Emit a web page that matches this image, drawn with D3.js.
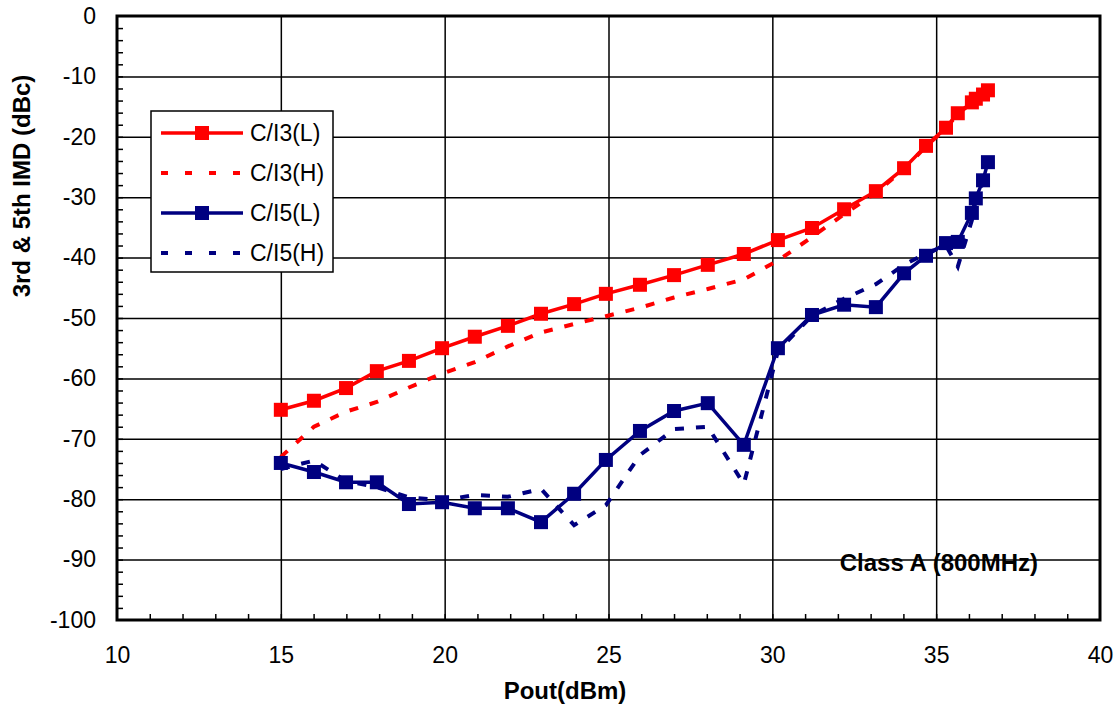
<!DOCTYPE html>
<html>
<head>
<meta charset="utf-8">
<script src="https://cdn.jsdelivr.net/npm/d3@7"></script>
<style>
  body { margin: 0; background: #fff; }
  text { font-family: 'Liberation Sans', Arial, sans-serif; fill: #000; }
  .grid line { stroke: #000; stroke-width: 1.5; }
  .grid .domain { display: none; }
</style>
</head>
<body>
<div id="box-div"></div>
<script>
// Pout (dBm) of each measured point
const pout = [15.0, 16.01, 16.99, 17.93, 18.91, 19.92, 20.92, 21.93, 22.94, 23.95,
  24.92, 25.96, 27.0, 28.03, 29.13, 30.17, 31.21, 32.19, 33.16, 34.02,
  34.69, 35.30, 35.66, 36.09, 36.21, 36.43, 36.58]

const ci3L = [-65.2, -63.7, -61.6, -58.8, -57.1, -55.0, -53.1, -51.3, -49.3, -47.7,
  -46.0, -44.5, -42.9, -41.2, -39.4, -37.1, -35.1, -32.0, -29.0, -25.2,
  -21.5, -18.5, -16.1, -14.3, -13.7, -13.0, -12.3]
const ci3H = [-73.0, -68.0, -65.5, -63.9, -61.5, -59.2, -57.3, -54.7, -52.4, -51.0,
  -49.7, -48.3, -46.6, -45.2, -43.6, -40.5, -36.6, -32.8, -29.3, -25.3,
  -21.6, -18.6, -16.2, -14.4, -13.8, -13.1, -12.4]
const ci5L = [-74.0, -75.5, -77.2, -77.2, -80.8, -80.5, -81.5, -81.5, -83.8, -79.1,
  -73.5, -68.7, -65.4, -64.1, -71.0, -55.0, -49.5, -47.8, -48.2, -42.6,
  -39.7, -37.6, -37.4, -32.6, -30.2, -27.2, -24.2]
const ci5H = [-75.0, -73.6, -77.0, -78.0, -79.7, -80.2, -79.3, -79.6, -78.3, -84.3,
  -81.0, -72.7, -68.4, -68.0, -77.5, -55.5, -49.6, -46.8, -44.4, -41.2,
  -39.3, -38.0, -41.5, -33.8, -30.5, -27.5, -24.5]

const seriesNames = ['C/I3(L)', 'C/I3(H)', 'C/I5(L)', 'C/I5(H)']
const xTicks = [10, 15, 20, 25, 30, 35, 40]
const yTicks = [0, -10, -20, -30, -40, -50, -60, -70, -80, -90, -100]
const noteText = 'Class A (800MHz)'

const dms = {
    width: 1117,
    height: 711,
    left: 117,
    right: 1100,
    top: 16,
    bottom: 620
}

const series = [
    { name: seriesNames[0], values: ci3L, color: '#ff0000', dashed: false },
    { name: seriesNames[1], values: ci3H, color: '#ff0000', dashed: true },
    { name: seriesNames[2], values: ci5L, color: '#000080', dashed: false },
    { name: seriesNames[3], values: ci5H, color: '#000080', dashed: true }
]

const box = d3.select('#box-div').append('svg')
    .attr('width', dms.width)
    .attr('height', dms.height)

const xScale = d3.scaleLinear()
    .domain([10, 40])
    .range([dms.left, dms.right])

const yScale = d3.scaleLinear()
    .domain([-100, 0])
    .range([dms.bottom, dms.top])

// grid
box.append('g')
    .attr('class', 'grid')
    .attr('transform', `translate(0,${dms.bottom})`)
    .call(d3.axisBottom(xScale).tickValues(xTicks.slice(1, -1))
        .tickSize(-(dms.bottom - dms.top)).tickFormat(''))

box.append('g')
    .attr('class', 'grid')
    .attr('transform', `translate(${dms.left},0)`)
    .call(d3.axisLeft(yScale).tickValues(yTicks.slice(1, -1))
        .tickSize(-(dms.right - dms.left)).tickFormat(''))

// minor ticks (inside)
box.append('g')
    .attr('class', 'grid')
    .attr('transform', `translate(0,${dms.bottom})`)
    .call(d3.axisBottom(xScale).tickValues(d3.range(11, 40))
        .tickSize(-6).tickFormat(''))

box.append('g')
    .attr('class', 'grid')
    .attr('transform', `translate(${dms.left},0)`)
    .call(d3.axisLeft(yScale).tickValues(d3.range(-98, 0, 2))
        .tickSize(-6).tickFormat(''))

// tick labels (plain hyphen minus, like the original)
const xLabels = box.append('g')
    .attr('transform', `translate(0,${dms.bottom})`)
    .call(d3.axisBottom(xScale).tickValues(xTicks).tickSize(0).tickPadding(27)
        .tickFormat(d => String(d)))
xLabels.select('.domain').remove()
xLabels.selectAll('text').style('font-size', '23px')

const yLabels = box.append('g')
    .attr('transform', `translate(${dms.left},0)`)
    .call(d3.axisLeft(yScale).tickValues(yTicks).tickSize(0).tickPadding(21)
        .tickFormat(d => String(d)))
yLabels.select('.domain').remove()
yLabels.selectAll('text').style('font-size', '23px')

// frame
box.append('rect')
    .attr('x', dms.left)
    .attr('y', dms.top)
    .attr('width', dms.right - dms.left)
    .attr('height', dms.bottom - dms.top)
    .attr('fill', 'none')
    .attr('stroke', '#000')
    .attr('stroke-width', 3)

// lines
const lineGen = d3.line()
    .x((d, i) => xScale(pout[i]))
    .y(d => yScale(d))

const plot = box.append('g')

// dashed ones first, solid with markers on top
const order = [series[1], series[3], series[0], series[2]]
order.forEach(s => {
    plot.append('path')
        .attr('d', lineGen(s.values))
        .attr('fill', 'none')
        .attr('stroke', s.color)
        .attr('stroke-width', s.dashed ? 4 : 3.5)
        .attr('stroke-dasharray', s.dashed ? '9,12' : null)
    if (!s.dashed) {
        plot.append('g').selectAll('rect')
            .data(s.values)
            .join('rect')
            .attr('x', (d, i) => xScale(pout[i]) - 7)
            .attr('y', d => yScale(d) - 7)
            .attr('width', 14)
            .attr('height', 14)
            .attr('fill', s.color)
    }
})

// note
box.append('text')
    .attr('x', 1038)
    .attr('y', 571)
    .attr('text-anchor', 'end')
    .style('font-size', '24px')
    .style('font-weight', 'bold')
    .text(noteText)

// axis titles
box.append('text')
    .attr('x', 565)
    .attr('y', 699)
    .attr('text-anchor', 'middle')
    .style('font-size', '24px')
    .style('font-weight', 'bold')
    .text('Pout(dBm)')

box.append('text')
    .attr('transform', 'translate(30,186) rotate(-90)')
    .attr('text-anchor', 'middle')
    .style('font-size', '24px')
    .style('font-weight', 'bold')
    .text('3rd & 5th IMD (dBc)')

// legend
const legend = box.append('g')
legend.append('rect')
    .attr('x', 151)
    .attr('y', 111)
    .attr('width', 182)
    .attr('height', 161)
    .attr('fill', '#fff')
    .attr('stroke', '#000')
    .attr('stroke-width', 1.5)

const rowY = d3.scalePoint()
    .domain(seriesNames)
    .range([133, 253])

series.forEach(s => {
    const y = rowY(s.name)
    legend.append('line')
        .attr('x1', 161).attr('x2', 243)
        .attr('y1', y).attr('y2', y)
        .attr('stroke', s.color)
        .attr('stroke-width', s.dashed ? 4 : 3.5)
        .attr('stroke-dasharray', s.dashed ? '7,17' : null)
    if (!s.dashed) {
        legend.append('rect')
            .attr('x', 195).attr('y', y - 7)
            .attr('width', 14).attr('height', 14)
            .attr('fill', s.color)
    }
    legend.append('text')
        .attr('x', 250)
        .attr('y', y)
        .attr('dy', '0.36em')
        .style('font-size', '23px')
        .text(s.name)
})
</script>
</body>
</html>
